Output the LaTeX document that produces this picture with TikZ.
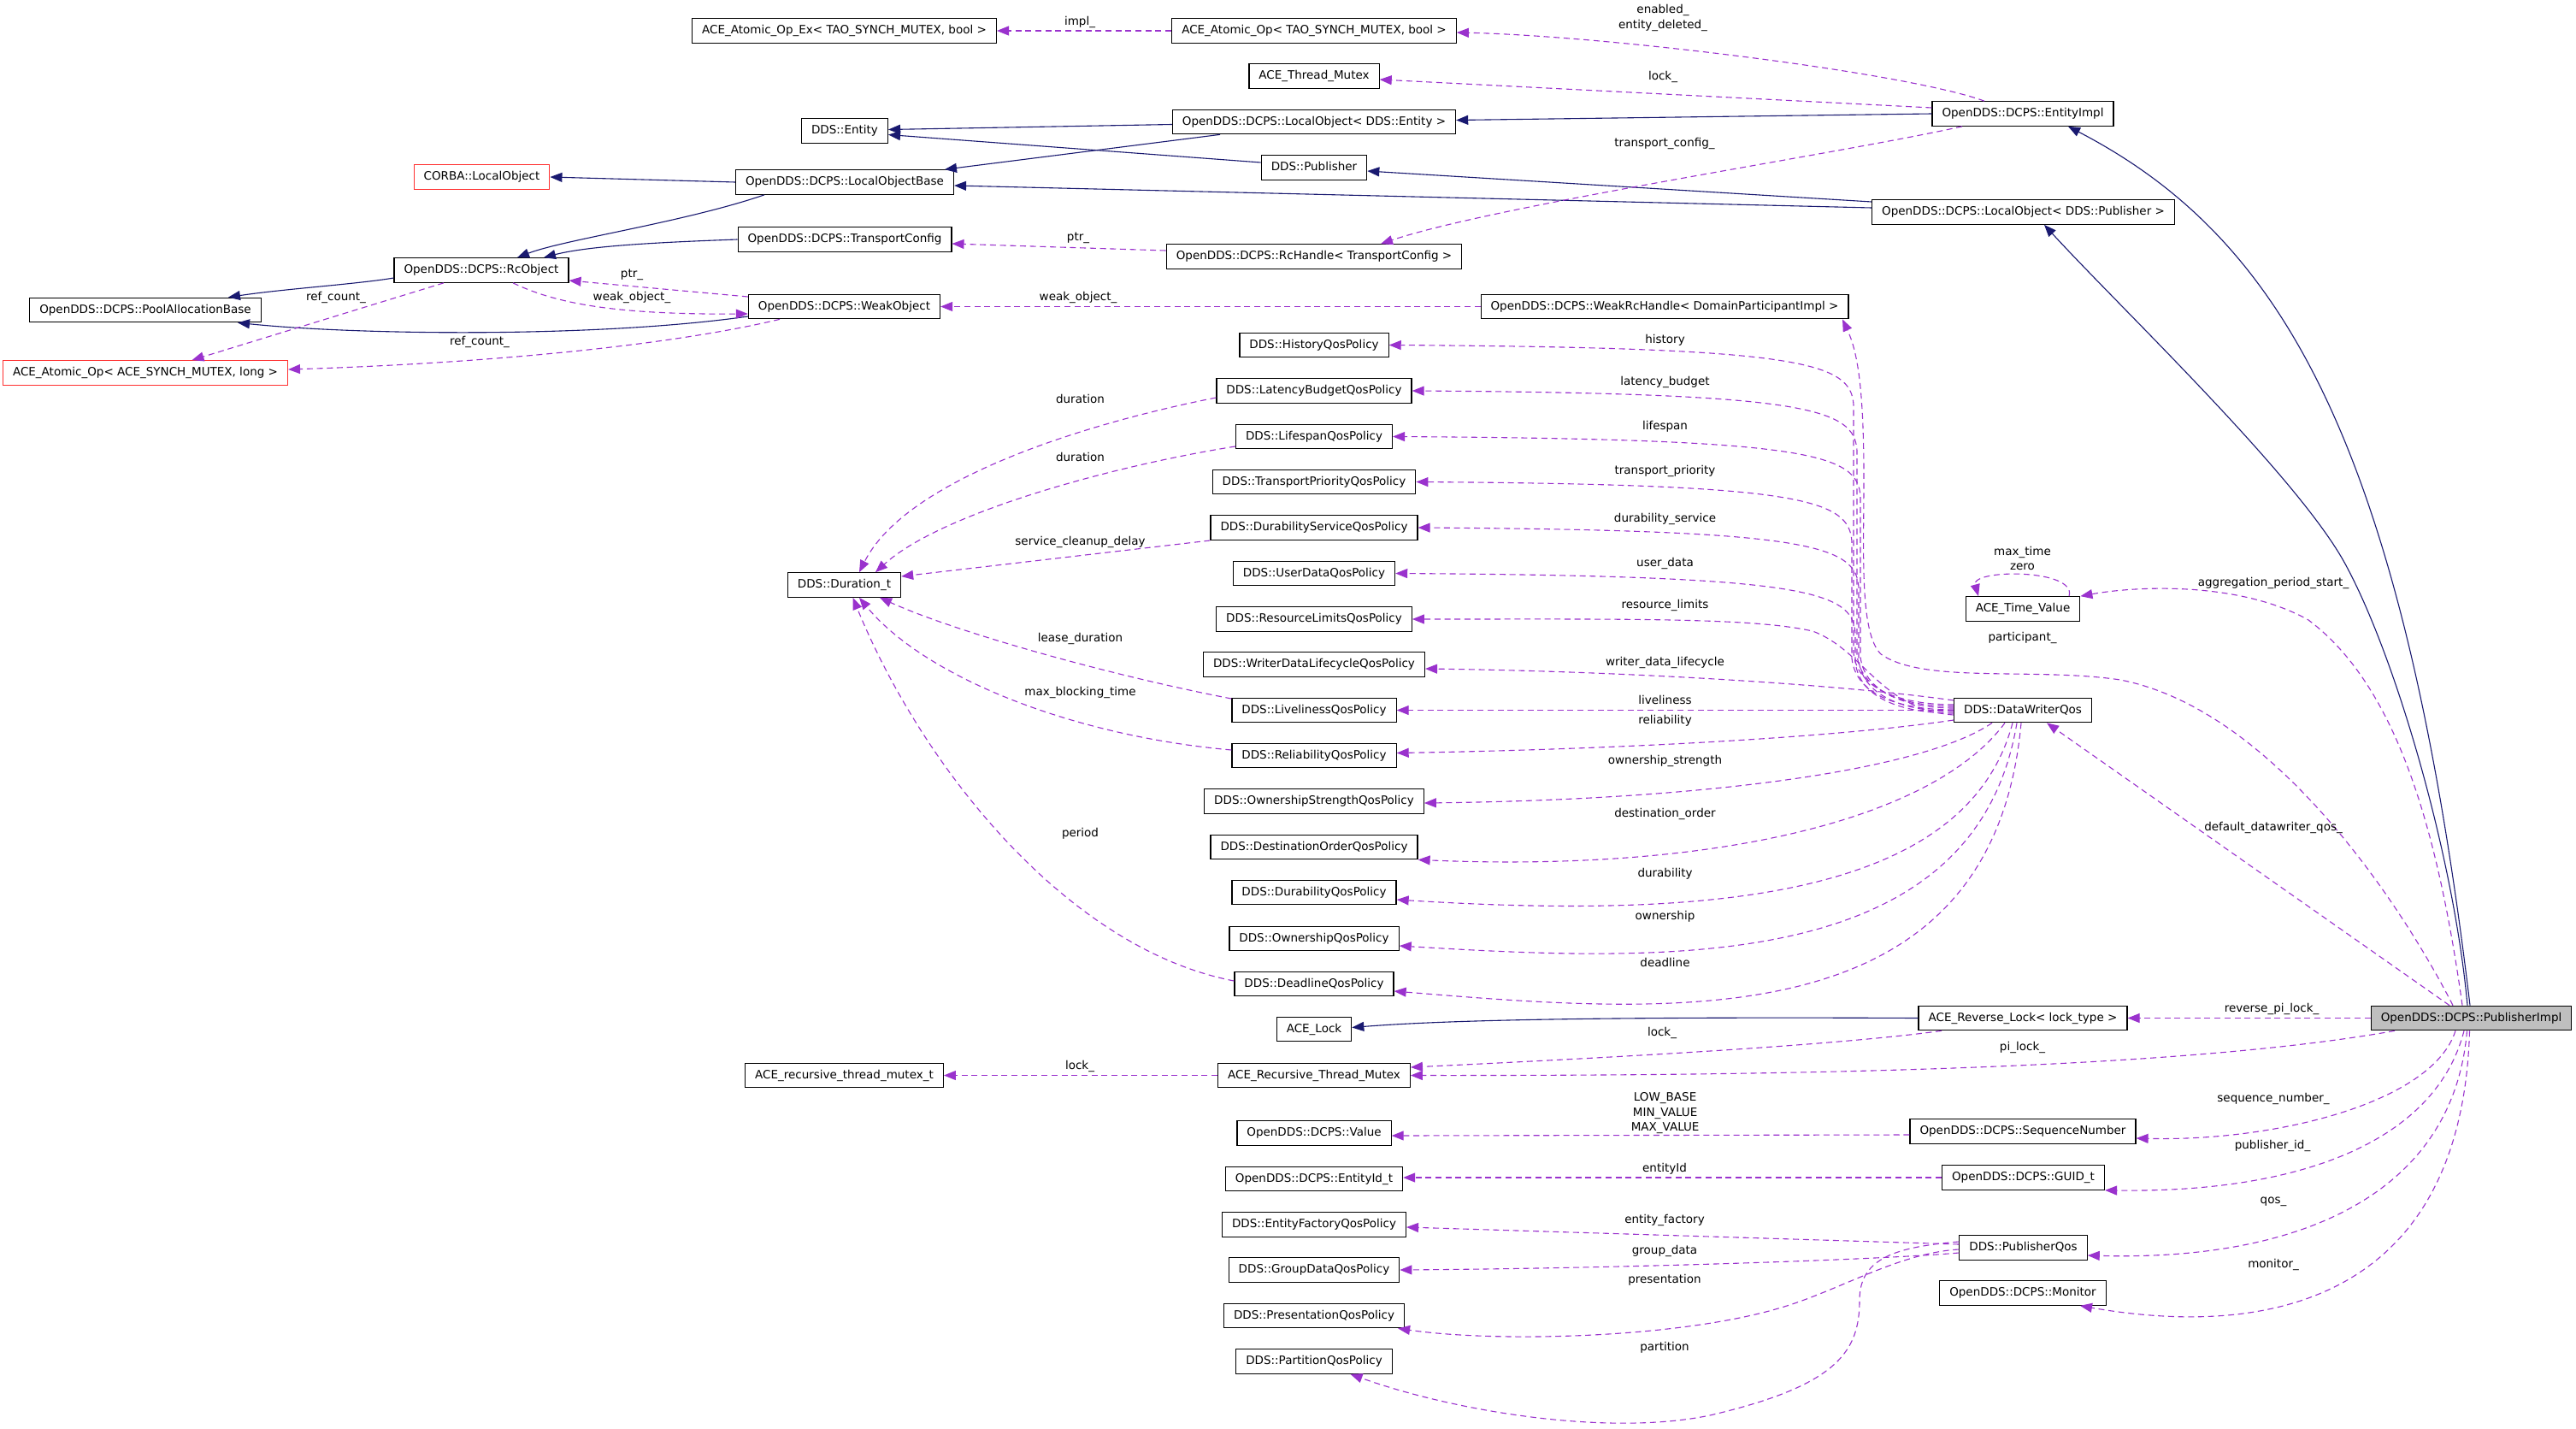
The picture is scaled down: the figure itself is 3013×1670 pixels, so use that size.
\documentclass[tikz,border=0pt]{standalone}
\usepackage{fontspec}
\setmainfont{DejaVu Sans}
\usetikzlibrary{arrows.meta}
\definecolor{navyc}{HTML}{191970}
\definecolor{purp}{HTML}{9A32CD}
\definecolor{redb}{HTML}{FF3030}
\definecolor{grayf}{HTML}{BFBFBF}
\newcommand{\gfont}{\fontsize{13.5pt}{16pt}\selectfont}
\begin{document}
\begin{tikzpicture}[x=1pt,y=-1pt,
  cls/.style={draw=black, line width=1.2pt, fill=white, inner xsep=11.5pt, inner ysep=0pt, minimum height=28.5pt, text height=10pt, text depth=3pt, font=\gfont},
  redcls/.style={cls, draw=redb},
  maincls/.style={cls, fill=grayf},
  inh/.style={draw=navyc, line width=1.1pt, -{Triangle[length=14pt,width=11pt]}},
  usage/.style={draw=purp, line width=1.1pt, dash pattern=on 7pt off 4.7pt, -{Triangle[length=14pt,width=11pt]}},
  lbl/.style={font=\gfont, inner sep=0pt, text height=10pt, text depth=3pt}
]
\fill[white] (0,0) rectangle (3013,1670);
\useasboundingbox (0,0) rectangle (3013,1670);

% ---------- nodes ----------
\node[cls] (atomicex) at (987.5,36) {ACE\_Atomic\_Op\_Ex< TAO\_SYNCH\_MUTEX, bool >};
\node[cls] (atomicbool) at (1537,36) {ACE\_Atomic\_Op< TAO\_SYNCH\_MUTEX, bool >};
\node[cls] (threadmutex) at (1537,89) {ACE\_Thread\_Mutex};
\node[cls] (ddsentity) at (988,153) {DDS::Entity};
\node[cls] (loentity) at (1537,142.5) {OpenDDS::DCPS::LocalObject< DDS::Entity >};
\node[cls] (entityimpl) at (2366,133) {OpenDDS::DCPS::EntityImpl};
\node[cls] (ddspub) at (1537,196) {DDS::Publisher};
\node[redcls] (corbalo) at (563.5,207) {CORBA::LocalObject};
\node[cls] (lobase) at (988,213) {OpenDDS::DCPS::LocalObjectBase};
\node[cls] (lopub) at (2366.5,248) {OpenDDS::DCPS::LocalObject< DDS::Publisher >};
\node[cls] (transportconfig) at (988,280) {OpenDDS::DCPS::TransportConfig};
\node[cls] (rchandle) at (1537,300) {OpenDDS::DCPS::RcHandle< TransportConfig >};
\node[cls] (rcobject) at (563,316) {OpenDDS::DCPS::RcObject};
\node[cls] (poolalloc) at (170,362.5) {OpenDDS::DCPS::PoolAllocationBase};
\node[cls] (weakobject) at (987.5,358.5) {OpenDDS::DCPS::WeakObject};
\node[cls] (weakrchandle) at (1947,358.5) {OpenDDS::DCPS::WeakRcHandle< DomainParticipantImpl >};
\node[redcls] (atomiclong) at (170,436) {ACE\_Atomic\_Op< ACE\_SYNCH\_MUTEX, long >};
\node[cls] (history) at (1537,403.5) {DDS::HistoryQosPolicy};
\node[cls] (latency) at (1537,457) {DDS::LatencyBudgetQosPolicy};
\node[cls] (lifespan) at (1537,510.5) {DDS::LifespanQosPolicy};
\node[cls] (transportprio) at (1537,563.5) {DDS::TransportPriorityQosPolicy};
\node[cls] (durservice) at (1537,617) {DDS::DurabilityServiceQosPolicy};
\node[cls] (userdata) at (1537,670.5) {DDS::UserDataQosPolicy};
\node[cls] (reslimits) at (1537,724) {DDS::ResourceLimitsQosPolicy};
\node[cls] (wdlifecycle) at (1537,777) {DDS::WriterDataLifecycleQosPolicy};
\node[cls] (liveliness) at (1537,830.5) {DDS::LivelinessQosPolicy};
\node[cls] (reliability) at (1537,883.5) {DDS::ReliabilityQosPolicy};
\node[cls] (ownstrength) at (1537,937) {DDS::OwnershipStrengthQosPolicy};
\node[cls] (destorder) at (1537,990.5) {DDS::DestinationOrderQosPolicy};
\node[cls] (durability) at (1537,1043.5) {DDS::DurabilityQosPolicy};
\node[cls] (ownership) at (1537,1097.5) {DDS::OwnershipQosPolicy};
\node[cls] (deadline) at (1537,1150.5) {DDS::DeadlineQosPolicy};
\node[cls] (duration) at (987.5,684) {DDS::Duration\_t};
\node[cls] (timevalue) at (2366,712) {ACE\_Time\_Value};
\node[cls] (dwqos) at (2366,830.5) {DDS::DataWriterQos};
\node[cls] (acelock) at (1537,1203.5) {ACE\_Lock};
\node[cls] (reverselock) at (2366,1190.5) {ACE\_Reverse\_Lock< lock\_type >};
\node[maincls] (pubimpl) at (2890.5,1190.5) {OpenDDS::DCPS::PublisherImpl};
\node[cls] (recmutex) at (1537,1257.5) {ACE\_Recursive\_Thread\_Mutex};
\node[cls] (recmutext) at (987.5,1257.5) {ACE\_recursive\_thread\_mutex\_t};
\node[cls] (value) at (1537,1325) {OpenDDS::DCPS::Value};
\node[cls] (seqnum) at (2366,1323) {OpenDDS::DCPS::SequenceNumber};
\node[cls] (entityid) at (1537,1378.5) {OpenDDS::DCPS::EntityId\_t};
\node[cls] (guid) at (2366.5,1377) {OpenDDS::DCPS::GUID\_t};
\node[cls] (entityfactory) at (1537,1432) {DDS::EntityFactoryQosPolicy};
\node[cls] (pubqos) at (2366.5,1459) {DDS::PublisherQos};
\node[cls] (groupdata) at (1537,1485) {DDS::GroupDataQosPolicy};
\node[cls] (monitor) at (2366,1512) {OpenDDS::DCPS::Monitor};
\node[cls] (presentation) at (1537,1538.5) {DDS::PresentationQosPolicy};
\node[cls] (partition) at (1537,1592) {DDS::PartitionQosPolicy};

% ---------- inheritance ----------
\draw[inh] (lobase.west) -- (corbalo.east);
\draw[inh] ([xshift=-94pt]lobase.south) .. controls (800,260) and (660,280) .. ([xshift=42pt]rcobject.north);
\draw[inh] (transportconfig.west) .. controls (780,283) and (690,287) .. ([xshift=73pt]rcobject.north);
\draw[inh] ([yshift=-9pt]rcobject.west) .. controls (420,332) and (330,338) .. ([xshift=97pt]poolalloc.north);
\draw[inh] ([yshift=-11.5pt]weakobject.west) .. controls (700,395) and (420,392) .. ([xshift=108pt]poolalloc.south);
\draw[inh] ([yshift=-3pt]loentity.west) -- ([yshift=1.5pt]ddsentity.east);
\draw[inh] ([yshift=6pt]ddspub.west) -- ([yshift=-4.5pt]ddsentity.east);
\draw[inh] ([xshift=-110pt]loentity.south) -- ([xshift=117pt]lobase.north);
\draw[inh] ([yshift=5pt]lopub.west) -- ([yshift=-4pt]lobase.east);
\draw[inh] ([yshift=12pt]lopub.west) -- ([yshift=-4pt]ddspub.east);
\draw[inh] (entityimpl.west) -- ([yshift=2pt]loentity.east);
\draw[inh] ([xshift=-1.5pt]pubimpl.north) .. controls (2809,508) and (2665,276) .. ([xshift=53pt]entityimpl.south);
\draw[inh] ([xshift=-4.5pt]pubimpl.north) .. controls (2870,1000) and (2800,760) .. (2740,654) .. controls (2680,550) and (2480,360) .. ([xshift=24.5pt]lopub.south);
\draw[inh] (reverselock.west) .. controls (1900,1189) and (1700,1192) .. ([yshift=2pt]acelock.east);

% ---------- usage (top) ----------
\draw[usage] (atomicbool.west) -- (atomicex.east);
\draw[usage] ([xshift=-45pt]entityimpl.north) .. controls (2230,85) and (1880,42) .. ([yshift=-2pt]atomicbool.east);
\draw[usage] ([yshift=7pt]entityimpl.west) -- ([yshift=-4pt]threadmutex.east);
\draw[usage] ([xshift=-71pt]entityimpl.south) .. controls (2150,180) and (1750,240) .. ([xshift=78pt]rchandle.north);
\draw[usage] ([yshift=7pt]rchandle.west) -- ([yshift=-5pt]transportconfig.east);
\draw[usage] (weakrchandle.west) -- (weakobject.east);
\draw[usage] ([yshift=11.5pt]weakobject.west) -- ([yshift=-12pt]rcobject.east);
\draw[usage] ([xshift=37pt]rcobject.south) .. controls (650,355) and (720,368) .. ([yshift=-8.5pt]weakobject.west);
\draw[usage] ([xshift=-44pt]rcobject.south) -- ([xshift=54.5pt]atomiclong.north);
\draw[usage] ([xshift=-75.5pt]weakobject.south) .. controls (780,405) and (560,425) .. ([yshift=4pt]atomiclong.east);

% ---------- usage from PublisherImpl ----------
\draw[usage] ([xshift=-21.5pt]pubimpl.north) .. controls (2810,1060) and (2660,830) .. (2480,795) .. controls (2380,780) and (2250,800) .. (2200,765) .. controls (2175,740) and (2180,650) .. (2180,560) .. controls (2180,450) and (2172,410) .. ([xshift=208pt]weakrchandle.south);
\draw[usage] ([xshift=-10.5pt]pubimpl.north) .. controls (2850,960) and (2800,800) .. (2700,725) .. controls (2620,680) and (2500,685) .. (timevalue.north east);
\draw[usage] ([xshift=54pt]timevalue.north) .. controls (2430,665) and (2305,665) .. ([xshift=-52pt]timevalue.north);
\draw[usage] ([xshift=-25.5pt]pubimpl.north) -- ([xshift=28pt]dwqos.south);
\draw[usage] (pubimpl.west) -- (reverselock.east);
\draw[usage] ([xshift=-89.5pt]pubimpl.south) .. controls (2550,1250) and (2100,1258) .. (recmutex.east);
\draw[usage] ([xshift=-95pt]reverselock.south) .. controls (2150,1222) and (1900,1236) .. ([yshift=9.5pt]recmutex.east);
\draw[usage] (recmutex.west) -- (recmutext.east);
\draw[usage] ([xshift=-18.5pt]pubimpl.south) .. controls (2845,1290) and (2660,1335) .. ([yshift=-8pt]seqnum.east);
\draw[usage] ([yshift=-4pt]seqnum.west) -- ([yshift=-3pt]value.east);
\draw[usage] ([xshift=-8.5pt]pubimpl.south) .. controls (2850,1330) and (2700,1395) .. (guid.south east);
\draw[usage] (guid.west) -- ([yshift=1.5pt]entityid.east);
\draw[usage] ([xshift=-5pt]pubimpl.south) .. controls (2870,1390) and (2700,1475) .. ([yshift=-9pt]pubqos.east);
\draw[usage] ([xshift=-2pt]pubimpl.south) .. controls (2880,1500) and (2680,1570) .. ([xshift=67pt]monitor.south);
\draw[usage] ([yshift=4pt]pubqos.west) -- ([yshift=-3pt]entityfactory.east);
\draw[usage] ([yshift=-6pt]pubqos.west) .. controls (2200,1473) and (1900,1483) .. (groupdata.east);
\draw[usage] ([yshift=-2pt]pubqos.west) .. controls (2220,1465) and (2150,1510) .. (2080,1530) .. controls (1960,1565) and (1750,1570) .. ([xshift=-8pt]presentation.south east);
\draw[usage] ([yshift=7pt]pubqos.west) .. controls (2220,1458) and (2175,1470) .. (2175,1520) .. controls (2175,1580) and (2150,1620) .. (2000,1655) .. controls (1880,1680) and (1700,1650) .. ([xshift=42.5pt]partition.south);

% ---------- DataWriterQos members ----------
\draw[usage] ([yshift=6.5pt]dwqos.west) .. controls (2230,824) and (2173,809) .. (2168,764) -- (2168,473.5) .. controls (2165,423.5) and (2108,406.5) .. (history.east);
\draw[usage] ([yshift=4.5pt]dwqos.west) .. controls (2232,826) and (2177,811) .. (2172,766) -- (2172,527) .. controls (2169,477) and (2112,460) .. (latency.east);
\draw[usage] ([yshift=2.5pt]dwqos.west) .. controls (2236,828) and (2181,813) .. (2176,768) -- (2176,580.5) .. controls (2173,530.5) and (2116,513.5) .. (lifespan.east);
\draw[usage] ([yshift=0.5pt]dwqos.west) .. controls (2226,830) and (2171,815) .. (2166,770) -- (2166,633.5) .. controls (2163,583.5) and (2106,566.5) .. (transportprio.east);
\draw[usage] ([yshift=-1.5pt]dwqos.west) .. controls (2234,832) and (2179,817) .. (2174,772) -- (2174,687) .. controls (2171,637) and (2114,620) .. (durservice.east);
\draw[usage] ([yshift=-3.5pt]dwqos.west) .. controls (2230,834) and (2175,819) .. (2170,774) -- (2170,740.5) .. controls (2167,690.5) and (2110,673.5) .. (userdata.east);
\draw[usage] ([yshift=-5.5pt]dwqos.west) .. controls (2200,830) and (2180,760) .. (2120,738) .. controls (2050,722) and (1900,724) .. (reslimits.east);
\draw[usage] ([yshift=11.5pt]dwqos.west) .. controls (2150,800) and (1900,785) .. ([yshift=-5pt]wdlifecycle.east);
\draw[usage] (dwqos.west) -- (liveliness.east);
\draw[usage] ([yshift=-11.5pt]dwqos.west) .. controls (2150,862) and (1900,876) .. ([yshift=3pt]reliability.east);
\draw[usage] ([xshift=-36pt]dwqos.south) .. controls (2250,900) and (2000,935) .. ([yshift=-2pt]ownstrength.east);
\draw[usage] ([xshift=-21pt]dwqos.south) .. controls (2260,960) and (2000,1020) .. (destorder.south east);
\draw[usage] ([xshift=-12pt]dwqos.south) .. controls (2300,1050) and (2000,1075) .. ([yshift=-8.5pt]durability.east);
\draw[usage] ([xshift=-7pt]dwqos.south) .. controls (2310,1140) and (1950,1125) .. ([yshift=-8.5pt]ownership.east);
\draw[usage] ([xshift=-2pt]dwqos.south) .. controls (2330,1220) and (1950,1185) .. ([yshift=-8.5pt]deadline.east);

% ---------- Duration_t ----------
\draw[usage] ([yshift=-8pt]latency.west) .. controls (1270,495) and (1060,560) .. ([xshift=17.5pt]duration.north);
\draw[usage] ([yshift=-11.5pt]lifespan.west) .. controls (1300,545) and (1100,600) .. ([xshift=36.5pt]duration.north);
\draw[usage] ([yshift=-15pt]durservice.west) -- ([yshift=10pt]duration.east);
\draw[usage] ([yshift=13.5pt]liveliness.west) .. controls (1300,790) and (1120,740) .. ([xshift=41.5pt]duration.south);
\draw[usage] ([yshift=6.5pt]reliability.west) .. controls (1250,860) and (1080,790) .. ([xshift=17.5pt]duration.south);
\draw[usage] ([yshift=3.5pt]deadline.west) .. controls (1250,1110) and (1080,900) .. ([xshift=10pt]duration.south);

% ---------- labels ----------
\node[lbl] (l1) at (1263,26) {impl\_};
\node[lbl] (l2) at (1945,12) {enabled\_};
\node[lbl] (l3) at (1945,30) {entity\_deleted\_};
\node[lbl] (l4) at (1945,90) {lock\_};
\node[lbl] (l5) at (1947,168) {transport\_config\_};
\node[lbl] (l6) at (1261,278) {ptr\_};
\node[lbl] (l7) at (1261,348) {weak\_object\_};
\node[lbl] (l8) at (739,321) {ptr\_};
\node[lbl] (l9) at (739,348) {weak\_object\_};
\node[lbl] (l10) at (393,348) {ref\_count\_};
\node[lbl] (l11) at (561,400) {ref\_count\_};
\node[lbl] (l12) at (1947.5,398) {history};
\node[lbl] (l13) at (1947.5,447) {latency\_budget};
\node[lbl] (l14) at (1947.5,499) {lifespan};
\node[lbl] (l15) at (1947.5,551) {transport\_priority};
\node[lbl] (l16) at (1947.5,607) {durability\_service};
\node[lbl] (l17) at (1947.5,659) {user\_data};
\node[lbl] (l18) at (1947.5,708) {resource\_limits};
\node[lbl] (l19) at (1947.5,775) {writer\_data\_lifecycle};
\node[lbl] (l20) at (1947.5,820) {liveliness};
\node[lbl] (l21) at (1947.5,843) {reliability};
\node[lbl] (l22) at (1947.5,890) {ownership\_strength};
\node[lbl] (l23) at (1947.5,952) {destination\_order};
\node[lbl] (l24) at (1947.5,1022) {durability};
\node[lbl] (l25) at (1947.5,1072) {ownership};
\node[lbl] (l26) at (1947.5,1127) {deadline};
\node[lbl] (l27) at (1263.5,468) {duration};
\node[lbl] (l28) at (1263.5,536) {duration};
\node[lbl] (l29) at (1263.5,634) {service\_cleanup\_delay};
\node[lbl] (l30) at (1263.5,747) {lease\_duration};
\node[lbl] (l31) at (1263.5,810) {max\_blocking\_time};
\node[lbl] (l32) at (1263.5,975) {period};
\node[lbl] (l33) at (2365.5,646) {max\_time};
\node[lbl] (l34) at (2365.5,663) {zero};
\node[lbl] (l35) at (2659,682) {aggregation\_period\_start\_};
\node[lbl] (l36) at (2365.5,746) {participant\_};
\node[lbl] (l37) at (2659,968) {default\_datawriter\_qos\_};
\node[lbl] (l38) at (2657,1180) {reverse\_pi\_lock\_};
\node[lbl] (l39) at (2365.5,1225) {pi\_lock\_};
\node[lbl] (l40) at (1944,1208) {lock\_};
\node[lbl] (l41) at (1263,1247) {lock\_};
\node[lbl] (l42) at (1947.6,1284) {LOW\_BASE};
\node[lbl] (l43) at (1947.6,1302) {MIN\_VALUE};
\node[lbl] (l44) at (1947.6,1319) {MAX\_VALUE};
\node[lbl] (l45) at (1947,1367) {entityId};
\node[lbl] (l46) at (2659,1285) {sequence\_number\_};
\node[lbl] (l47) at (2658,1340) {publisher\_id\_};
\node[lbl] (l48) at (2659,1404) {qos\_};
\node[lbl] (l49) at (2659,1479) {monitor\_};
\node[lbl] (l50) at (1947,1427) {entity\_factory};
\node[lbl] (l51) at (1947,1463) {group\_data};
\node[lbl] (l52) at (1947,1497) {presentation};
\node[lbl] (l53) at (1947,1576) {partition};
\end{tikzpicture}
\end{document}
